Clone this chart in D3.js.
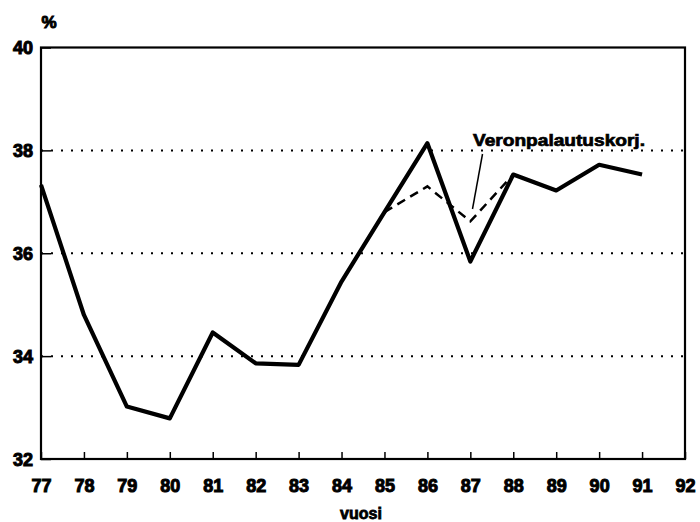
<!DOCTYPE html>
<html>
<head>
<meta charset="utf-8">
<script src="https://cdn.jsdelivr.net/npm/d3@7"></script>
<style>
  body { margin: 0; background: #fff; }
  text { font-family: "Liberation Sans", Arial, sans-serif; font-weight: bold; fill: #000; }
</style>
</head>
<body>
<div id="chart"></div>
<script>
// years 1977..1991, axis runs to 92
const years = [77, 78, 79, 80, 81, 82, 83, 84, 85, 86, 87, 88, 89, 90, 91];
const taxRate = [37.33, 34.8, 33.02, 32.79, 34.46, 33.86, 33.83, 35.45, 36.8, 38.14, 35.84, 37.53, 37.22, 37.72, 37.53];
// tax refund corrected series, only where it differs
const corrYears = [85, 86, 87, 88];
const corrRate = [36.8, 37.3, 36.62, 37.53];
const xTicks = d3.range(77, 93);
const yTicks = [32, 34, 36, 38, 40];
const gridValues = [34, 36, 38];

const width = 700, height = 522;
const margin = {left: 41, right: 15, top: 47.5, bottom: 63};

const svg = d3.select("#chart").append("svg")
    .attr("width", width)
    .attr("height", height);

const x = d3.scaleLinear()
    .domain([77, 92])
    .range([margin.left, width - margin.right]);

const y = d3.scaleLinear()
    .domain([32, 40])
    .range([height - margin.bottom, margin.top]);

// dotted grid
svg.append("g")
    .selectAll("line")
    .data(gridValues)
    .enter().append("line")
    .attr("x1", x(77)).attr("x2", x(92))
    .attr("y1", d => y(d)).attr("y2", d => y(d))
    .attr("stroke", "#000")
    .attr("stroke-width", 2)
    .attr("stroke-dasharray", "2,8");

// x axis, ticks point inward
const xAxis = svg.append("g")
    .attr("transform", "translate(0," + y(32) + ")")
    .call(d3.axisBottom(x).tickValues(xTicks).tickSize(-7).tickPadding(20).tickFormat(d3.format("d")));

// y axis
const yAxis = svg.append("g")
    .attr("transform", "translate(" + x(77) + ",0)")
    .call(d3.axisLeft(y).tickValues(yTicks).tickSize(-10).tickPadding(8));

[xAxis, yAxis].forEach(function (ax) {
    ax.select(".domain").remove();
    ax.selectAll("line").attr("stroke", "#000").attr("stroke-width", 1.5);
    ax.selectAll("text")
        .style("font-size", "18px")
        .attr("stroke", "#000")
        .attr("stroke-width", 1);
});
yAxis.selectAll("text").attr("dy", "0.36em");

// frame
svg.append("rect")
    .attr("x", x(77)).attr("y", y(40))
    .attr("width", x(92) - x(77)).attr("height", y(32) - y(40))
    .attr("fill", "none")
    .attr("stroke", "#000")
    .attr("stroke-width", 2.2);

const line = d3.line()
    .x(d => x(d[0]))
    .y(d => y(d[1]));

svg.append("path")
    .datum(d3.zip(corrYears, corrRate))
    .attr("d", line)
    .attr("fill", "none")
    .attr("stroke", "#000")
    .attr("stroke-width", 2.5)
    .attr("stroke-dasharray", "9,6");

svg.append("path")
    .datum(d3.zip(years, taxRate))
    .attr("d", line)
    .attr("fill", "none")
    .attr("stroke", "#000")
    .attr("stroke-width", 4.2)
    .attr("stroke-linejoin", "round");

// label with leader line
svg.append("text")
    .attr("x", 473)
    .attr("y", 146)
    .attr("textLength", 172)
    .attr("lengthAdjust", "spacingAndGlyphs")
    .attr("stroke", "#000")
    .attr("stroke-width", 0.7)
    .style("font-size", "16px")
    .text("Veronpalautuskorj.");

svg.append("line")
    .attr("x1", 482.5).attr("y1", 154)
    .attr("x2", 472.5).attr("y2", 209)
    .attr("stroke", "#000")
    .attr("stroke-width", 1.5);

svg.append("text")
    .attr("x", 49)
    .attr("y", 28)
    .attr("text-anchor", "middle")
    .attr("stroke", "#000")
    .attr("stroke-width", 1)
    .style("font-size", "17px")
    .text("%");

svg.append("text")
    .attr("x", 361)
    .attr("y", 519)
    .attr("text-anchor", "middle")
    .attr("stroke", "#000")
    .attr("stroke-width", 0.8)
    .style("font-size", "16px")
    .text("vuosi");
</script>
</body>
</html>
